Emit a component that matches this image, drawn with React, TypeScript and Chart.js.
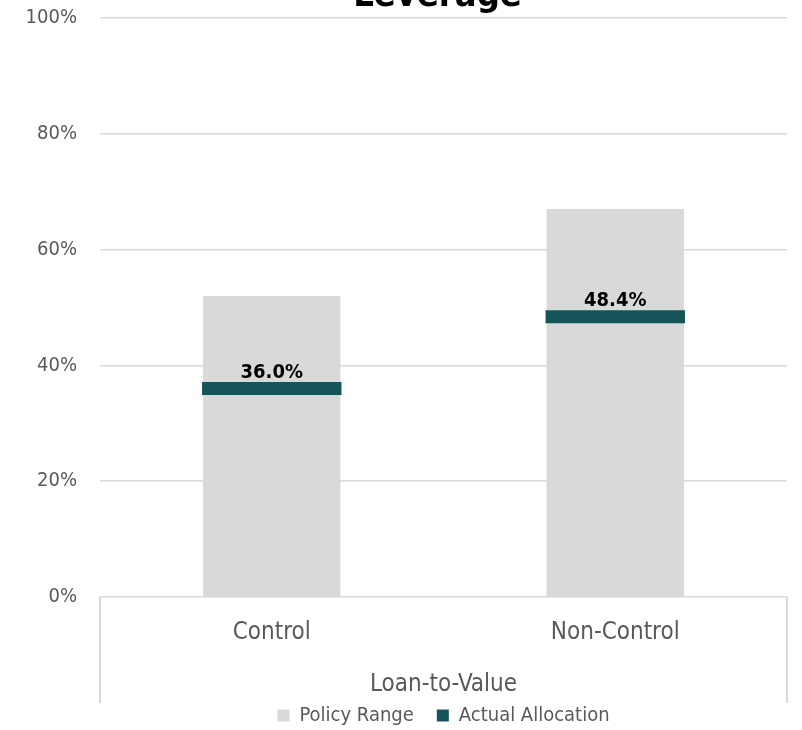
import React, { useEffect, useRef } from "react";
import { Chart, registerables } from "chart.js";

Chart.register(...registerables);

const categories = ["Control", "Non-Control"];
const policyRange = [52, 67];
const actualAllocation = [36.0, 48.4];
const yTickValues = [0, 20, 40, 60, 80, 100];
const chartTitle = "Leverage";
const xAxisTitle = "Loan-to-Value";
const seriesNames = ["Policy Range", "Actual Allocation"];

const FONT = "'Liberation Sans Narrow', 'Arial Narrow', 'DejaVu Sans Condensed', 'Liberation Sans', sans-serif";
const GRAY = "#d9d9d9";
const TEAL = "#155459";
const TEXT = "#595959";

export default function App() {
  const ref = useRef<HTMLCanvasElement | null>(null);

  useEffect(() => {
    if (!ref.current) return;

    const extras = {
      id: "extras",
      afterLayout(chart: any) {
        const lg = chart.legend;
        if (lg) {
          lg.left = chart.chartArea.left;
          lg.right = chart.chartArea.right;
          lg.width = lg.right - lg.left;
        }
      },
      afterDraw(chart: any) {
        const { ctx, chartArea } = chart;
        ctx.save();
        // separator lines below the category axis
        ctx.strokeStyle = GRAY;
        ctx.lineWidth = 2;
        ctx.beginPath();
        [chartArea.left, chartArea.right].forEach((x: number) => {
          ctx.moveTo(x, chartArea.bottom);
          ctx.lineTo(x, chartArea.bottom + 106);
        });
        ctx.stroke();
        // title
        ctx.fillStyle = "#000";
        ctx.font = `bold 36px ${FONT}`;
        ctx.textAlign = "center";
        ctx.textBaseline = "alphabetic";
        ctx.fillText(chartTitle, (chartArea.left + chartArea.right) / 2 - 6, 6);
        // data labels for actual allocation
        const meta = chart.getDatasetMeta(1);
        ctx.font = `bold 20px ${FONT}`;
        meta.data.forEach((pt: any, i: number) => {
          ctx.fillText(actualAllocation[i].toFixed(1) + "%", pt.x, pt.y - 11);
        });
        ctx.restore();
      },
    };

    const chart = new Chart(ref.current, {
      type: "bar",
      data: {
        labels: categories,
        datasets: [
          {
            type: "bar",
            label: seriesNames[0],
            data: policyRange,
            backgroundColor: GRAY,
            borderWidth: 0,
            categoryPercentage: 1,
            barPercentage: 0.4,
            order: 2,
          },
          {
            type: "line",
            label: seriesNames[1],
            data: actualAllocation,
            showLine: false,
            backgroundColor: TEAL,
            borderColor: TEAL,
            borderWidth: 0,
            pointStyle: "line",
            pointRadius: (ctx: any) => {
              const x = ctx.chart.scales.x;
              return x ? (x.width / categories.length) * 0.2 + 1 : 69;
            },
            pointBorderWidth: 13,
            pointBorderColor: TEAL,
            pointBackgroundColor: TEAL,
            order: 1,
          } as any,
        ],
      },
      options: {
        responsive: false,
        animation: false,
        layout: { padding: { top: 18, right: 15, left: 0, bottom: -5.5 } },
        plugins: {
          tooltip: { enabled: false },
          title: { display: false },
          legend: {
            position: "bottom",
            labels: {
              boxWidth: 12,
              boxHeight: 12,
              padding: 23,
              color: TEXT,
              font: { family: FONT, size: 20 },
              sort: (a: any, b: any) => a.datasetIndex - b.datasetIndex,
            },
          },
        },
        scales: {
          x: {
            grid: { display: false, drawTicks: false },
            border: { display: false },
            ticks: {
              color: TEXT,
              font: { family: FONT, size: 24 },
              padding: 21,
            },
            title: {
              display: true,
              text: xAxisTitle,
              color: TEXT,
              font: { family: FONT, size: 24 },
              padding: { top: 0, bottom: -17 },
            },
            afterFit: (s: any) => {
              s.height = 85.5;
              s.paddingLeft = 0;
              s.paddingRight = 0;
            },
          },
          y: {
            min: 0,
            max: 100,
            border: { display: false },
            grid: { color: GRAY, lineWidth: 1.5, drawTicks: false },
            afterBuildTicks: (s: any) => {
              s.ticks = yTickValues.map((v) => ({ value: v }));
            },
            ticks: {
              color: TEXT,
              font: { family: FONT, size: 20 },
              padding: 23,
              callback: (v: any) => v + "%",
            },
            afterFit: (s: any) => {
              s.width = 100;
              s.paddingTop = 0;
              s.paddingBottom = 0;
            },
          },
        },
      },
      plugins: [extras],
    });

    return () => chart.destroy();
  }, []);

  return (
    <div style={{ position: "absolute", left: 0, top: 0, width: 802, height: 730 }}>
      <canvas ref={ref} width={802} height={730} style={{ display: "block" }} />
    </div>
  );
}
